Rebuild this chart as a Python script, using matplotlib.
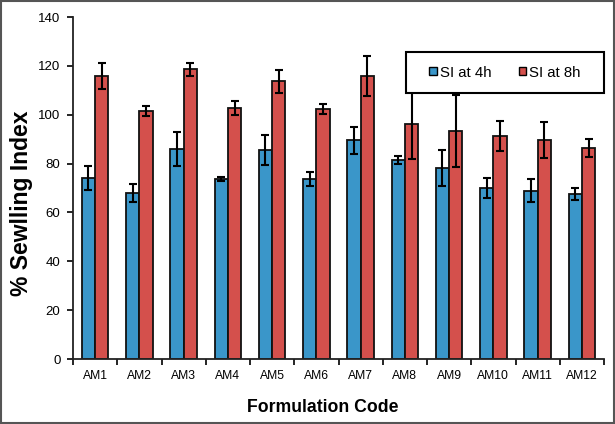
import numpy as np
import matplotlib
matplotlib.use("Agg")
import matplotlib.pyplot as plt
from matplotlib.patches import Rectangle

plt.rcParams['font.family'] = ['Liberation Sans', 'DejaVu Sans']

# データ
codes = ['AM1', 'AM2', 'AM3', 'AM4', 'AM5', 'AM6',
         'AM7', 'AM8', 'AM9', 'AM10', 'AM11', 'AM12']
si_4h = [74, 68, 86, 73.7, 85.5, 73.7, 89.6, 81.5, 78.2, 70, 68.9, 67.5]
err_4h = [4.9, 3.6, 6.9, 1.0, 6.1, 2.9, 5.5, 1.5, 7.5, 4.0, 4.7, 2.5]
si_8h = [115.7, 101.4, 118.6, 102.6, 113.6, 102.2, 115.7, 96.2, 93.3, 91.3, 89.6, 86.4]
err_8h = [5.3, 2.0, 2.6, 2.9, 4.9, 2.0, 8.2, 14.5, 14.7, 6.3, 7.3, 3.8]

blue = '#3A96C9'
red = '#D4504C'

fig = plt.figure(figsize=(6.15, 4.24), dpi=100)
ax = fig.add_axes([73 / 615, 1 - 359 / 424, 531 / 615, 342 / 424])

x = np.arange(len(codes))
w = 0.3
ekw = dict(ecolor='black', elinewidth=1.5, capsize=3, capthick=1.5)
ax.bar(x - w / 2, si_4h, w, color=blue, edgecolor='#111111', linewidth=1.3,
       yerr=err_4h, error_kw=ekw, label='SI at 4h', zorder=2)
ax.bar(x + w / 2, si_8h, w, color=red, edgecolor='#111111', linewidth=1.3,
       yerr=err_8h, error_kw=ekw, label='SI at 8h', zorder=2)

ax.set_xlim(-0.5, len(codes) - 0.5)
ax.set_ylim(0, 140)
ax.set_yticks(range(0, 141, 20))
ax.set_xticks(x)
ax.set_xticklabels(codes, fontsize=8.7)
ax.set_xticks(np.arange(-0.5, len(codes), 1), minor=True)
ax.tick_params(axis='x', which='major', length=0, pad=8)
ax.tick_params(axis='x', which='minor', length=4, width=1.2, direction='out')
ax.tick_params(axis='y', labelsize=9.5, length=4, width=1.2, direction='out', pad=5)
for s in ['top', 'right']:
    ax.spines[s].set_visible(False)
for s in ['left', 'bottom']:
    ax.spines[s].set_linewidth(1.3)
    ax.spines[s].set_color('#222222')

ax.set_ylabel('% Sewlling Index', fontsize=16.5, fontweight='bold')
ax.yaxis.set_label_coords(-0.076, 0.455)
ax.set_xlabel('Formulation Code', fontsize=12.7, fontweight='bold', labelpad=12)
ax.xaxis.label.set_x(0.471)

# 凡例（枠は手で描く）
ax.add_patch(Rectangle((0.627, 0.778), 0.373, 0.12, transform=ax.transAxes,
                       facecolor='white', edgecolor='black', linewidth=1.5,
                       zorder=4, clip_on=False))
leg = ax.legend(loc='center', bbox_to_anchor=(0.8136, 0.8377), ncol=2,
                fontsize=10.8, frameon=False, handlelength=0.5,
                handleheight=0.5, columnspacing=1.8, handletextpad=0.2,
                borderaxespad=0)
for h in leg.legend_handles:
    h.set_edgecolor('black')
    h.set_linewidth(1.0)
leg.set_zorder(5)

# 外枠
fig.patches.append(Rectangle((0.002, 0.003), 0.996, 0.994, transform=fig.transFigure,
                             fill=False, edgecolor='#555555', linewidth=1.5))

fig.savefig('out.png', dpi=100)
